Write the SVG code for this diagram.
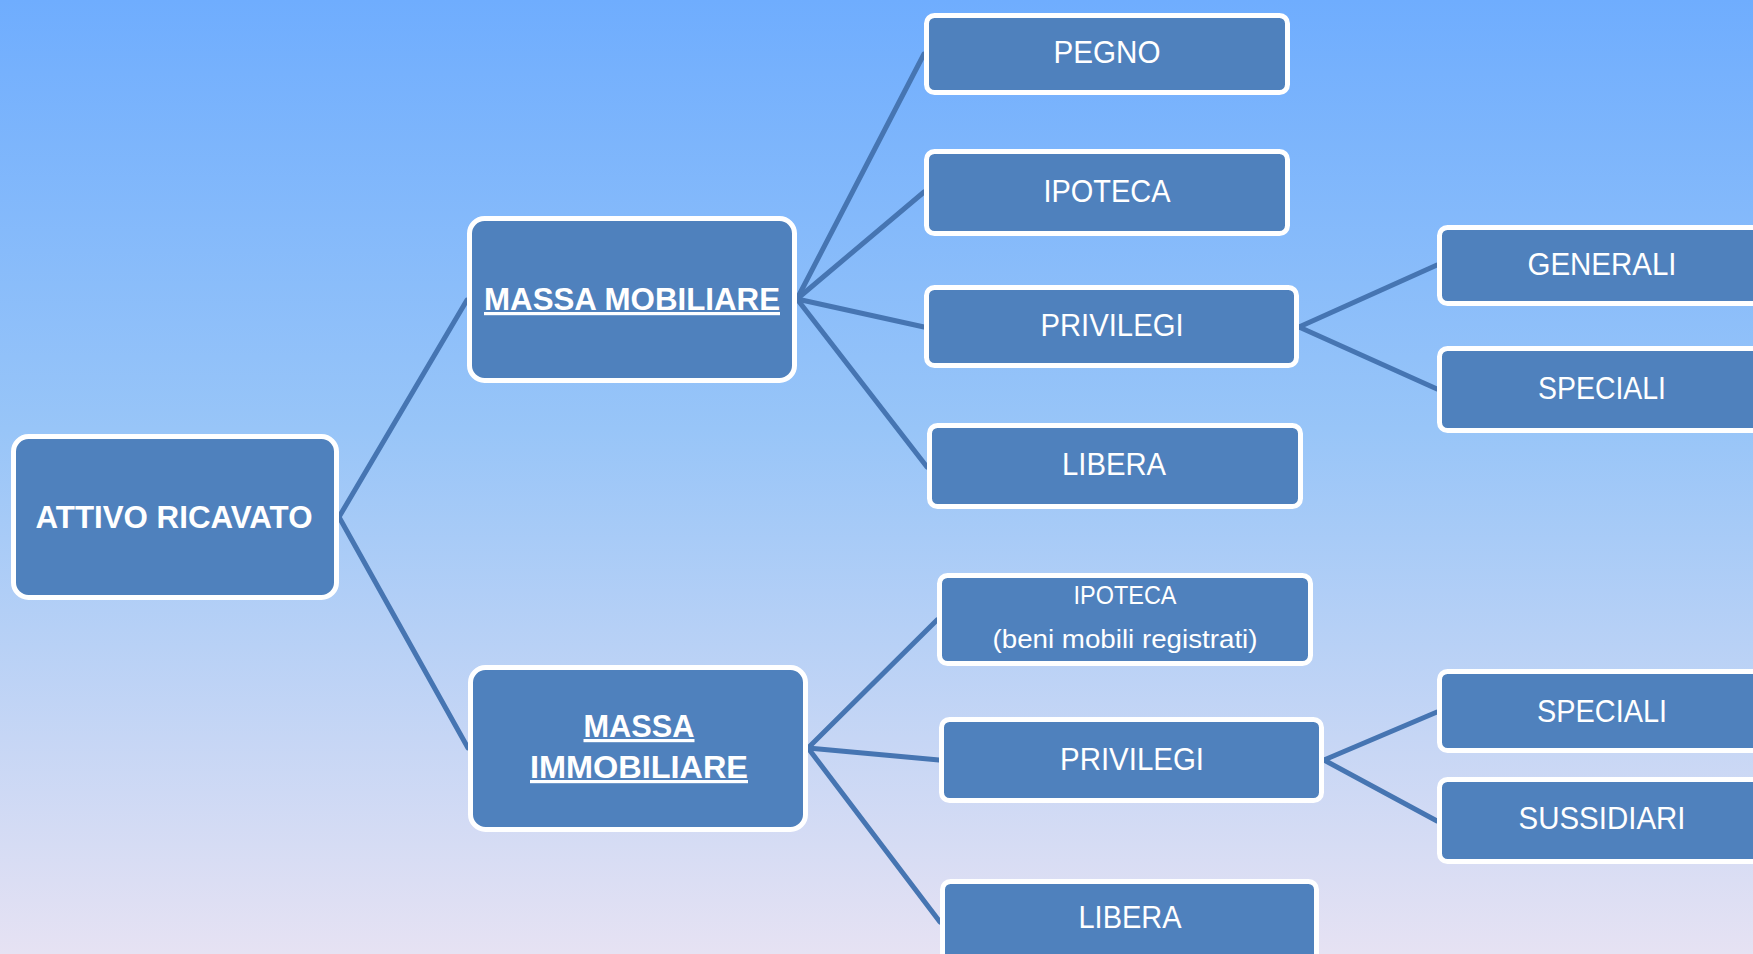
<svg xmlns="http://www.w3.org/2000/svg" width="1753" height="954" viewBox="0 0 1753 954">
<defs>
<linearGradient id="bg" x1="0" y1="0" x2="0" y2="1">
<stop offset="0" stop-color="#6FADFE"/>
<stop offset="0.45" stop-color="#98C5F8"/>
<stop offset="1" stop-color="#E6E2F3"/>
</linearGradient>
<style>
.box{fill:#4F81BD;stroke:#FFFFFF;stroke-width:5}
.conn line{stroke:#4675B2;stroke-width:5;stroke-linecap:round}
.t{font-family:"Liberation Sans",Arial,sans-serif;font-size:32px;fill:#FFFFFF;text-anchor:middle}
.b{font-weight:bold}
.s{font-size:25px}
.u{text-decoration:underline}
</style>
</defs>
<rect x="0" y="0" width="1753" height="954" fill="url(#bg)"/>
<g id="connectors" class="conn">
<line x1="339" y1="517" x2="467" y2="300"/>
<line x1="339" y1="517" x2="468" y2="748"/>
<line x1="797" y1="299" x2="924" y2="54"/>
<line x1="797" y1="299" x2="924" y2="192"/>
<line x1="797" y1="299" x2="924" y2="327"/>
<line x1="797" y1="299" x2="927" y2="467"/>
<line x1="1299" y1="327" x2="1437" y2="265"/>
<line x1="1299" y1="327" x2="1437" y2="389"/>
<line x1="808" y1="748" x2="937" y2="620"/>
<line x1="808" y1="748" x2="939" y2="760"/>
<line x1="808" y1="748" x2="940" y2="922"/>
<line x1="1324" y1="760" x2="1437" y2="712"/>
<line x1="1324" y1="760" x2="1437" y2="821"/>
</g>
<g id="attivo">
<rect class="box" x="13.5" y="436.5" width="323" height="161" rx="15"/>
<text class="t b" x="174" y="528" textLength="277" lengthAdjust="spacingAndGlyphs">ATTIVO RICAVATO</text>
</g>
<g id="massa-mobiliare">
<rect class="box" x="469.5" y="218.5" width="325" height="162" rx="15"/>
<text class="t b u" x="632" y="310" textLength="296" lengthAdjust="spacingAndGlyphs">MASSA MOBILIARE</text>
</g>
<g id="massa-immobiliare">
<rect class="box" x="470.5" y="667.5" width="335" height="162" rx="15"/>
<text class="t b u" x="639" y="737" textLength="111" lengthAdjust="spacingAndGlyphs">MASSA</text>
<text class="t b u" x="639" y="778" textLength="218" lengthAdjust="spacingAndGlyphs">IMMOBILIARE</text>
</g>
<g id="pegno">
<rect class="box" x="926.5" y="15.5" width="361" height="77" rx="8"/>
<text class="t" x="1107" y="63" textLength="107" lengthAdjust="spacingAndGlyphs">PEGNO</text>
</g>
<g id="ipoteca">
<rect class="box" x="926.5" y="151.5" width="361" height="82" rx="8"/>
<text class="t" x="1107" y="202" textLength="127" lengthAdjust="spacingAndGlyphs">IPOTECA</text>
</g>
<g id="privilegi-mobiliare">
<rect class="box" x="926.5" y="287.5" width="370" height="78" rx="8"/>
<text class="t" x="1112" y="336" textLength="143" lengthAdjust="spacingAndGlyphs">PRIVILEGI</text>
</g>
<g id="libera-mobiliare">
<rect class="box" x="929.5" y="425.5" width="371" height="81" rx="8"/>
<text class="t" x="1114" y="475" textLength="104" lengthAdjust="spacingAndGlyphs">LIBERA</text>
</g>
<g id="generali">
<rect class="box" x="1439.5" y="227.5" width="330" height="76" rx="8"/>
<text class="t" x="1602" y="275" textLength="149" lengthAdjust="spacingAndGlyphs">GENERALI</text>
</g>
<g id="speciali-mobiliare">
<rect class="box" x="1439.5" y="348.5" width="330" height="82" rx="8"/>
<text class="t" x="1602" y="399" textLength="128" lengthAdjust="spacingAndGlyphs">SPECIALI</text>
</g>
<g id="ipoteca-beni-mobili">
<rect class="box" x="939.5" y="575.5" width="371" height="88" rx="8"/>
<text class="t s" x="1125" y="604" textLength="103" lengthAdjust="spacingAndGlyphs">IPOTECA</text>
<text class="t s" x="1125" y="648" textLength="265" lengthAdjust="spacingAndGlyphs">(beni mobili registrati)</text>
</g>
<g id="privilegi-immobiliare">
<rect class="box" x="941.5" y="719.5" width="380" height="81" rx="8"/>
<text class="t" x="1132" y="770" textLength="144" lengthAdjust="spacingAndGlyphs">PRIVILEGI</text>
</g>
<g id="libera-immobiliare">
<rect class="box" x="942.5" y="881.5" width="374" height="95" rx="8"/>
<text class="t" x="1130" y="928" textLength="103" lengthAdjust="spacingAndGlyphs">LIBERA</text>
</g>
<g id="speciali-immobiliare">
<rect class="box" x="1439.5" y="671.5" width="330" height="79" rx="8"/>
<text class="t" x="1602" y="722" textLength="130" lengthAdjust="spacingAndGlyphs">SPECIALI</text>
</g>
<g id="sussidiari">
<rect class="box" x="1439.5" y="779.5" width="330" height="82" rx="8"/>
<text class="t" x="1602" y="829" textLength="167" lengthAdjust="spacingAndGlyphs">SUSSIDIARI</text>
</g>
</svg>
